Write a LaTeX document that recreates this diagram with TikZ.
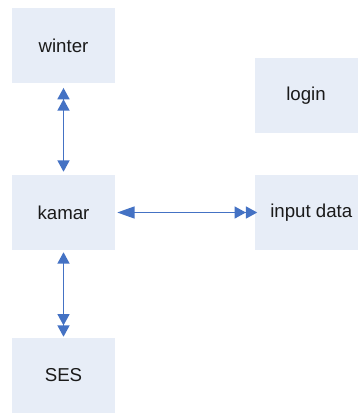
\documentclass[tikz,border=0pt]{standalone}
\usepackage{fontspec}
\setmainfont{Liberation Sans}
\usetikzlibrary{arrows.meta}
\definecolor{boxfill}{HTML}{E7EDF7}
\definecolor{linkblue}{HTML}{4472C4}
\definecolor{labeltext}{HTML}{1A1A1A}
\begin{document}
\begin{tikzpicture}[x=0.75pt,y=-0.75pt,
  card/.style={fill=boxfill, draw=none, minimum width=77.25pt, minimum height=56.25pt,
    inner sep=0pt, font=\fontsize{14}{16}\selectfont, text=labeltext},
  link/.style={draw=linkblue, line width=1.1pt},
  tip/.tip={Triangle[length=8.5pt,width=9pt]},
  longtip/.tip={Triangle[length=13pt,width=9pt]}]
  \useasboundingbox (0,0) rectangle (359,413);
  % boxes
  \node[card] (winter) at (63.5,45.5) {winter};
  \node[card] (login)  at (306,95.5)  {login};
  \node[card] (kamar)  at (63.5,212.5) {kamar};
  \node[card] (input)  at (306,212.5) {\hspace*{8pt}input data};
  \node[card] (ses)    at (63.5,375.5) {SES};
  % connectors
  \draw[link, {tip[]tip[]}-{tip[]}, shorten <=3.5pt, shorten >=2.25pt]
    (winter.south) -- (kamar.north);
  \draw[link, {tip[]}-{tip[]tip[]}, shorten <=1.5pt, shorten >=0.75pt]
    (kamar.south) -- (ses.north);
  \draw[link, {longtip[]}-{tip[]tip[]}, shorten <=1.5pt, shorten >=-2.25pt]
    (kamar.east) -- (input.west);
\end{tikzpicture}
\end{document}
